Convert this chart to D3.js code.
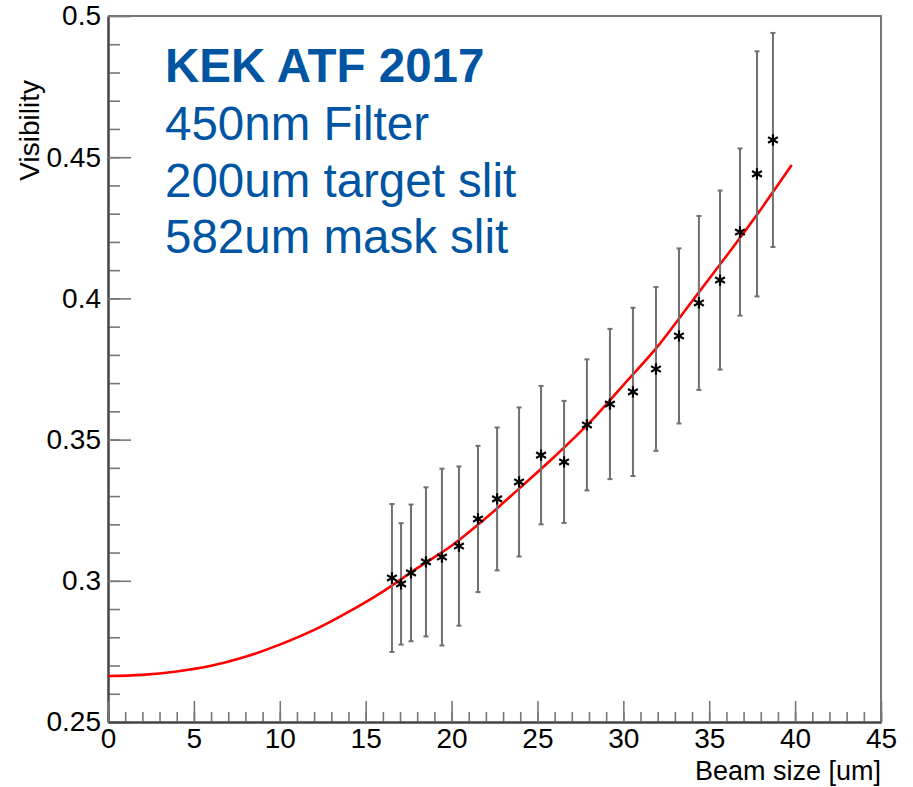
<!DOCTYPE html>
<html>
<head>
<meta charset="utf-8">
<script src="https://cdn.jsdelivr.net/npm/d3@7"></script>
<style>
  body { margin: 0; background: #fff; }
  text { font-family: "Liberation Sans", Arial, sans-serif; }
</style>
</head>
<body>
<div class="chart"></div>
<script>
// measured points (beam size in um, visibility, error)
var beamSize = [16.53, 17.06, 17.64, 18.51, 19.44, 20.43, 21.54, 22.65, 23.93, 25.21, 26.55,
                27.88, 29.22, 30.56, 31.90, 33.24, 34.40, 35.63, 36.79, 37.78, 38.71];
var visibility = [0.3010, 0.2989, 0.3028, 0.3067, 0.3084, 0.3123, 0.3219, 0.3290, 0.3350, 0.3445, 0.3421,
                  0.3552, 0.3626, 0.3669, 0.3750, 0.3867, 0.3984, 0.4065, 0.4235, 0.4441, 0.4561];
var visErr = [0.0262, 0.0215, 0.0242, 0.0264, 0.0313, 0.0282, 0.0259, 0.0253, 0.0264, 0.0245, 0.0216,
              0.0232, 0.0266, 0.0298, 0.0290, 0.0310, 0.0308, 0.0317, 0.0296, 0.0434, 0.0379];

// fit curve
var fitX = [0, 2, 4, 6, 8, 10, 12, 14, 16, 18, 20, 22, 24, 26, 28, 30, 32, 34, 36, 38, 39.8];
var fitY = [0.2663, 0.2667, 0.2679, 0.2699, 0.2731, 0.2774, 0.2826, 0.2890, 0.2962, 0.3045, 0.3124,
            0.3222, 0.3330, 0.3440, 0.3558, 0.3693, 0.3830, 0.3990, 0.4150, 0.4315, 0.4472];

var xTicks = [0, 5, 10, 15, 20, 25, 30, 35, 40, 45];
var yTicks = [0.25, 0.3, 0.35, 0.4, 0.45, 0.5];
var infoLines = ["450nm Filter", "200um target slit", "582um mask slit"];

var margin = { top: 16, right: 32, bottom: 65, left: 108 };
var width = 913 - margin.left - margin.right;
var height = 787 - margin.top - margin.bottom;

var svg = d3.select('.chart')
  .append('svg')
    .attr('width', 913)
    .attr('height', 787)
  .append('g')
    .attr('transform', 'translate(' + margin.left + ', ' + margin.top + ')');

var xScale = d3.scaleLinear().domain([0, 45]).range([0, width]);
var yScale = d3.scaleLinear().domain([0.25, 0.5]).range([height, 0]);

// frame (top and right)
svg.append('path')
  .attr('d', 'M0,0H' + width + 'V' + height)
  .attr('fill', 'none')
  .attr('stroke', '#777')
  .attr('stroke-width', 2);

// minor ticks
svg.append('g')
  .call(d3.axisLeft(yScale).tickValues(d3.range(0.25, 0.5, 0.01)).tickSize(-12).tickSizeOuter(0).tickFormat(''));
svg.append('g')
  .attr('transform', `translate(0, ${height})`)
  .call(d3.axisBottom(xScale).tickValues(d3.range(0, 46, 1)).tickSize(-10).tickSizeOuter(0).tickFormat(''));

// major ticks + labels
svg.append('g')
  .call(d3.axisLeft(yScale).tickValues(yTicks).tickSize(-23).tickSizeOuter(0).tickPadding(7)
    .tickFormat(d => d3.format('~g')(d)));
svg.append('g')
  .attr('transform', `translate(0, ${height})`)
  .call(d3.axisBottom(xScale).tickValues(xTicks).tickSize(-21).tickSizeOuter(0).tickPadding(6));

svg.selectAll('.tick line').attr('stroke', '#777').attr('stroke-width', 1.6);
svg.selectAll('.domain').attr('stroke', '#444').attr('stroke-width', 2);
svg.selectAll('.tick text')
  .attr('fill', '#000')
  .style('font-size', '28px')
  .style('font-family', '"Liberation Sans", Arial, sans-serif');

// fit curve
var line = d3.line()
  .x((d, i) => xScale(fitX[i]))
  .y(d => yScale(d))
  .curve(d3.curveMonotoneX);
svg.append('path')
  .datum(fitY)
  .attr('d', line)
  .attr('fill', 'none')
  .attr('stroke', '#ff0000')
  .attr('stroke-width', 2.6);

// error bars
var bars = svg.selectAll('.bar')
  .data(visibility)
  .enter()
  .append('g')
  .attr('class', 'bar')
  .attr('stroke', '#707070')
  .attr('stroke-width', 2);
bars.append('line')
  .attr('x1', (d, i) => xScale(beamSize[i]))
  .attr('x2', (d, i) => xScale(beamSize[i]))
  .attr('y1', (d, i) => yScale(d + visErr[i]))
  .attr('y2', (d, i) => yScale(d - visErr[i]));
bars.append('line')
  .attr('x1', (d, i) => xScale(beamSize[i]) - 2.5)
  .attr('x2', (d, i) => xScale(beamSize[i]) + 2.5)
  .attr('y1', (d, i) => yScale(d + visErr[i]))
  .attr('y2', (d, i) => yScale(d + visErr[i]));
bars.append('line')
  .attr('x1', (d, i) => xScale(beamSize[i]) - 2.5)
  .attr('x2', (d, i) => xScale(beamSize[i]) + 2.5)
  .attr('y1', (d, i) => yScale(d - visErr[i]))
  .attr('y2', (d, i) => yScale(d - visErr[i]));

// markers
svg.selectAll('.mark')
  .data(visibility)
  .enter()
  .append('path')
  .attr('class', 'mark')
  .attr('d', d3.symbol().type(d3.symbolAsterisk).size(90))
  .attr('transform', (d, i) => `translate(${xScale(beamSize[i])}, ${yScale(d)})`)
  .attr('fill', 'none')
  .attr('stroke', '#000')
  .attr('stroke-width', 2.2);

// text box
svg.append('text')
  .attr('x', 57)
  .attr('y', 66)
  .attr('fill', '#0055a2')
  .style('font-size', '47.5px')
  .style('font-weight', 'bold')
  .text('KEK ATF 2017');
svg.selectAll('.info')
  .data(infoLines)
  .enter()
  .append('text')
  .attr('class', 'info')
  .attr('x', 57)
  .attr('y', (d, i) => 124 + i * 56.5)
  .attr('fill', '#0055a2')
  .style('font-size', '47.5px')
  .text(d => d);

// axis titles
svg.append('text')
  .attr('x', width)
  .attr('y', height + 58)
  .attr('fill', 'black')
  .style('text-anchor', 'end')
  .style('font-size', '27px')
  .text('Beam size [um]');

svg.append('text')
  .attr('transform', 'rotate(-90)')
  .attr('x', -64)
  .attr('y', -69)
  .attr('fill', 'black')
  .style('text-anchor', 'end')
  .style('font-size', '28px')
  .text('Visibility');
</script>
</body>
</html>
